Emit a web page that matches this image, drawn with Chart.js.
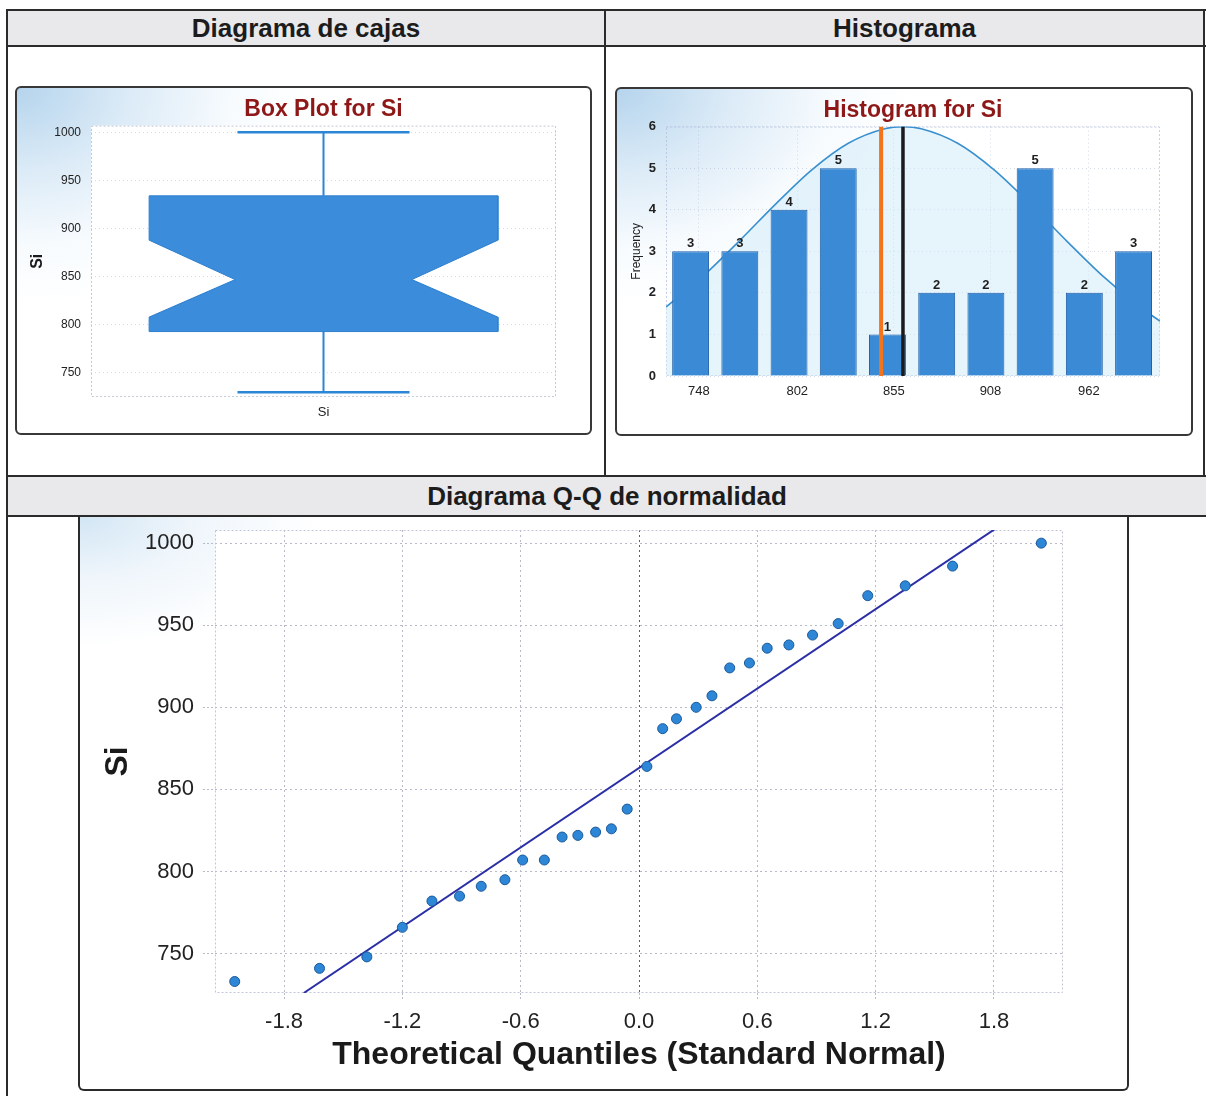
<!DOCTYPE html>
<html>
<head>
<meta charset="utf-8">
<script src="https://cdn.jsdelivr.net/npm/chart.js@4.4.1/dist/chart.umd.min.js"></script>
<style>
  body { margin:0; width:1206px; height:1096px; background:#fff; position:relative; overflow:hidden;
         font-family:'Liberation Sans', Arial, sans-serif; }
  .hl { position:absolute; height:2px; background:#2b2b2b; }
  .vl { position:absolute; width:2px; background:#2b2b2b; }
  .head { position:absolute; background:#e9e9ec; font-weight:bold; font-size:26px; color:#1c1c1c; text-align:center; }
  .panel { position:absolute; box-sizing:border-box; border:2px solid #383838; border-radius:6px;
           background: radial-gradient(ellipse 300px 220px at 0 0, #b5d4ed 0%, #dcebf7 38%, #f7fbfe 72%, #ffffff 100%); }
  #qqFrame { position:absolute; box-sizing:border-box; border:2px solid #2b2b2b; border-top:none;
             border-radius:0 0 6px 6px;
             background: radial-gradient(ellipse 240px 130px at 0 0, #d3e6f4 0%, #eef5fb 45%, #ffffff 100%); }
  canvas { position:absolute; left:0; top:0; }
</style>
</head>
<body>
<div class="head" style="left:8px;top:11px;width:596px;height:34px;line-height:34px;">Diagrama de cajas</div>
<div class="head" style="left:606px;top:11px;width:597px;height:34px;line-height:34px;">Histograma</div>
<div class="head" style="left:8px;top:477px;width:1198px;height:38px;line-height:38px;">Diagrama Q-Q de normalidad</div>

<div class="hl" style="left:6px;top:9px;width:1200px;"></div>
<div class="hl" style="left:6px;top:45px;width:1200px;"></div>
<div class="hl" style="left:6px;top:475px;width:1200px;"></div>
<div class="hl" style="left:6px;top:515px;width:1200px;"></div>
<div class="vl" style="left:6px;top:9px;height:1087px;"></div>
<div class="vl" style="left:604px;top:9px;height:468px;"></div>
<div class="vl" style="left:1203px;top:9px;height:468px;"></div>

<div class="panel" style="left:15px;top:86px;width:577px;height:349px;">
  <canvas id="boxChart" width="573" height="345"></canvas>
</div>
<div class="panel" style="left:615px;top:87px;width:578px;height:349px;">
  <canvas id="histChart" width="574" height="345"></canvas>
</div>
<div id="qqFrame" style="left:78px;top:517px;width:1051px;height:574px;">
  <canvas id="qqChart" width="1047" height="572"></canvas>
</div>

<script>
// box plot
const boxCategory = ['Si'];
const boxWhisker = [730, 1000];        // min, max
const boxQuartile = [793, 847, 934];   // Q1, median, Q3
const boxNotch = [808, 888];           // notch lower / upper
const boxTicks = [750, 800, 850, 900, 950, 1000];

// histogram
const histBinCenter = [743.5, 770.5, 797.5, 824.5, 851.5, 878.5, 905.5, 932.5, 959.5, 986.5];
const histCount = [3, 3, 4, 5, 1, 2, 2, 5, 2, 3];
const histTicks = [748, 802, 855, 908, 962];
const histCurveX = [730, 750, 770, 790, 810, 830, 850, 860, 870, 890, 910, 930, 950, 970, 990, 1001];
const histCurveY = [1.66, 2.39, 3.24, 4.13, 4.96, 5.60, 5.95, 6.00, 5.95, 5.60, 4.96, 4.13, 3.24, 2.39, 1.66, 1.32];
const histMarks = [848, 860];          // median (orange), mean (black)

// Q-Q plot
const qqTheo = [-2.05, -1.62, -1.38, -1.20, -1.05, -0.91, -0.80, -0.68, -0.59, -0.48,
                -0.39, -0.31, -0.22, -0.14, -0.06, 0.04, 0.12, 0.19, 0.29, 0.37,
                0.46, 0.56, 0.65, 0.76, 0.88, 1.01, 1.16, 1.35, 1.59, 2.04];
const qqSi = [733, 741, 748, 766, 782, 785, 791, 795, 807, 807,
              821, 822, 824, 826, 838, 864, 887, 893, 900, 907,
              924, 927, 936, 938, 944, 951, 968, 974, 986, 1000];
const qqLineX = [-1.70, 1.81];
const qqLineY = [726, 1009];
const qqTicksX = [-1.8, -1.2, -0.6, 0, 0.6, 1.2, 1.8];
const qqTicksY = [750, 800, 850, 900, 950, 1000];

const SANS = "'Liberation Sans', Arial, sans-serif";

Chart.defaults.animation = false;
Chart.defaults.responsive = false;
Chart.defaults.plugins.legend.display = false;
Chart.defaults.plugins.tooltip.enabled = false;
Chart.defaults.font.family = SANS;
Chart.defaults.color = '#1e1e1e';

// white plot area + thin dotted frame
Chart.register({
    id: 'plotFrame',
    defaults: { fill: null, color: '#c3c7d6', dash: [2, 2] },
    beforeDraw(chart, args, opts) {
        const a = chart.chartArea, c = chart.ctx;
        if (opts.fill) {
            c.save();
            c.fillStyle = opts.fill;
            c.fillRect(a.left, a.top, a.width, a.height);
            c.restore();
        }
    },
    beforeDatasetsDraw(chart, args, opts) {
        const a = chart.chartArea, c = chart.ctx;
        c.save();
        c.strokeStyle = opts.color;
        c.lineWidth = 1;
        c.setLineDash(opts.dash);
        c.strokeRect(a.left + 0.5, a.top + 0.5, a.width - 1, a.height - 1);
        c.restore();
    }
});

const fixWidth = w => s => { s.width = w; s.paddingTop = 0; s.paddingBottom = 0; };
const fixHeight = h => s => { s.height = h; s.paddingLeft = 0; s.paddingRight = 0; };
const setTicks = vals => s => { s.ticks = vals.map(v => ({ value: v })); };
const plain = v => String(v);

function seg(x1, y1, x2, y2, color, width) {
    return {
        type: 'line', data: [{ x: x1, y: y1 }, { x: x2, y: y2 }],
        borderColor: color, borderWidth: width, pointRadius: 0, fill: false
    };
}

// ---------- box plot ----------
const BOX_HALF = 0.75, NOTCH_HALF = 0.38, CAP_HALF = 0.37;
const [q1, med, q3] = boxQuartile;
const [wLo, wHi] = boxWhisker;
const [nLo, nHi] = boxNotch;
const boxShape = [
    { x: -BOX_HALF, y: q3 }, { x: BOX_HALF, y: q3 }, { x: BOX_HALF, y: nHi },
    { x: NOTCH_HALF, y: med }, { x: BOX_HALF, y: nLo }, { x: BOX_HALF, y: q1 },
    { x: -BOX_HALF, y: q1 }, { x: -BOX_HALF, y: nLo }, { x: -NOTCH_HALF, y: med },
    { x: -BOX_HALF, y: nHi }, { x: -BOX_HALF, y: q3 }
];
const whiskerColor = '#2b86d6';

new Chart(document.getElementById('boxChart'), {
    type: 'scatter',
    data: {
        datasets: [
            {
                type: 'line', data: boxShape, fill: 'shape', backgroundColor: '#3b8ddb',
                borderColor: '#2f80cf', borderWidth: 1, pointRadius: 0, tension: 0
            },
            seg(-NOTCH_HALF, med, NOTCH_HALF, med, '#2566ad', 1.5),
            seg(0, q3, 0, wHi, whiskerColor, 2),
            seg(0, wLo, 0, q1, whiskerColor, 2),
            seg(-CAP_HALF, wHi, CAP_HALF, wHi, whiskerColor, 2.5),
            seg(-CAP_HALF, wLo, CAP_HALF, wLo, whiskerColor, 2.5)
        ]
    },
    options: {
        layout: { padding: { left: 0, right: 34, top: 0, bottom: 0 } },
        plugins: {
            title: {
                display: true, fullSize: false, text: 'Box Plot for Si', color: '#8e1818',
                font: { size: 23, weight: 'bold' }, padding: { top: 8, bottom: 2 }
            },
            plotFrame: { fill: '#ffffff' }
        },
        scales: {
            x: {
                type: 'linear', min: -1, max: 1,
                afterBuildTicks: s => { s.ticks = [{ value: 0 }]; },
                afterFit: fixHeight(36),
                grid: { display: false, drawTicks: false },
                border: { display: false },
                ticks: { padding: 8, font: { size: 13 }, color: '#222', callback: () => boxCategory[0] }
            },
            y: {
                min: 725, max: 1007,
                afterBuildTicks: setTicks(boxTicks),
                afterFit: fixWidth(74),
                grid: { color: 'rgba(165,172,200,0.45)', drawTicks: false },
                border: { display: false, dash: [1, 3] },
                ticks: { padding: 10, font: { size: 12 }, color: '#222', callback: plain },
                title: {
                    display: true, text: 'Si', color: '#1a1a1a',
                    font: { size: 16, weight: 'bold' }, padding: { top: 11, bottom: 0 }
                }
            }
        }
    }
});

// ---------- histogram ----------
new Chart(document.getElementById('histChart'), {
    type: 'bar',
    data: {
        datasets: [
            {
                type: 'line', order: 1, data: [{ x: histMarks[0], y: 0 }, { x: histMarks[0], y: 6 }],
                borderColor: '#f4741c', borderWidth: 4, pointRadius: 0
            },
            {
                type: 'line', order: 1, data: [{ x: histMarks[1], y: 0 }, { x: histMarks[1], y: 6 }],
                borderColor: '#1b1b1b', borderWidth: 3.5, pointRadius: 0
            },
            {
                type: 'bar', order: 2,
                data: histBinCenter.map((x, i) => ({ x: x, y: histCount[i] })),
                backgroundColor: '#3a8ad6', borderColor: '#2361a8', borderWidth: 1,
                barPercentage: 0.75, categoryPercentage: 1
            },
            {
                type: 'line', order: 3,
                data: histCurveX.map((x, i) => ({ x: x, y: histCurveY[i] })),
                borderColor: '#3a90cf', borderWidth: 1.6, pointRadius: 0,
                fill: 'origin', backgroundColor: 'rgba(205,233,247,0.5)',
                cubicInterpolationMode: 'monotone'
            }
        ]
    },
    options: {
        layout: { padding: { left: 0, right: 31, top: 0, bottom: 0 } },
        plugins: {
            title: {
                display: true, fullSize: false, text: 'Histogram for Si', color: '#8e1818',
                font: { size: 23, weight: 'bold' }, padding: { top: 8, bottom: 2 }
            },
            plotFrame: { color: 'rgba(175,185,215,0.7)' }
        },
        scales: {
            x: {
                type: 'linear', min: 730, max: 1001, offset: false,
                afterBuildTicks: setTicks(histTicks),
                afterFit: fixHeight(58),
                grid: { color: 'rgba(165,175,205,0.45)', drawTicks: false, offset: false },
                border: { display: false, dash: [1, 3] },
                ticks: { padding: 8, font: { size: 13 }, color: '#222', callback: plain }
            },
            y: {
                min: 0, max: 6,
                afterFit: fixWidth(49),
                grid: { color: 'rgba(165,175,205,0.45)', drawTicks: false },
                border: { display: false, dash: [1, 3] },
                ticks: { stepSize: 1, padding: 10, font: { size: 13, weight: 'bold' }, color: '#222' },
                title: {
                    display: true, text: 'Frequency', color: '#222',
                    font: { size: 12 }, padding: { top: 12, bottom: 0 }
                }
            }
        }
    },
    plugins: [{
        id: 'countLabels',
        afterDatasetsDraw(chart) {
            const meta = chart.getDatasetMeta(2);
            const c = chart.ctx;
            c.save();
            c.font = 'bold 13px ' + SANS;
            c.fillStyle = '#1e1e1e';
            c.textAlign = 'center';
            c.textBaseline = 'bottom';
            meta.data.forEach((bar, i) => c.fillText(String(histCount[i]), bar.x, bar.y - 1));
            c.restore();
        }
    }]
});

// ---------- Q-Q plot ----------
const qqGrid = '#b8bac9';
new Chart(document.getElementById('qqChart'), {
    type: 'scatter',
    data: {
        datasets: [
            {
                type: 'scatter', order: 1,
                data: qqTheo.map((x, i) => ({ x: x, y: qqSi[i] })),
                pointRadius: 5, pointBackgroundColor: '#2e87d6',
                pointBorderColor: '#1a5a9c', pointBorderWidth: 1
            },
            {
                type: 'line', order: 2,
                data: qqLineX.map((x, i) => ({ x: x, y: qqLineY[i] })),
                borderColor: '#2b2fa6', borderWidth: 2, pointRadius: 0
            }
        ]
    },
    options: {
        layout: { padding: { left: 0, right: 64, top: 13, bottom: 0 } },
        plugins: { plotFrame: { fill: '#ffffff', color: '#c0c4d8' } },
        scales: {
            x: {
                min: -2.15, max: 2.15,
                afterBuildTicks: setTicks(qqTicksX),
                afterFit: fixHeight(96),
                grid: {
                    color: c => (c.tick && c.tick.value === 0) ? '#5e5e66' : qqGrid,
                    tickLength: 6, tickColor: qqGrid, tickBorderDash: [2, 2]
                },
                border: { display: false, dash: [2, 3] },
                ticks: { padding: 10, font: { size: 22 }, color: '#222', callback: v => v.toFixed(1) },
                title: {
                    display: true, text: 'Theoretical Quantiles (Standard Normal)', color: '#1a1a1a',
                    font: { size: 32, weight: 'bold' }, padding: { top: 0, bottom: 15 }
                }
            },
            y: {
                min: 726, max: 1008,
                afterBuildTicks: setTicks(qqTicksY),
                afterFit: fixWidth(135),
                grid: { color: qqGrid, tickLength: 12, tickColor: qqGrid, tickBorderDash: [2, 2] },
                border: { display: false, dash: [2, 3] },
                ticks: { padding: 9, font: { size: 22 }, color: '#222', callback: plain },
                title: {
                    display: true, text: 'Si', color: '#1a1a1a',
                    font: { size: 32, weight: 'bold' }, padding: { top: 19, bottom: 0 }
                }
            }
        }
    }
});
</script>
</body>
</html>
